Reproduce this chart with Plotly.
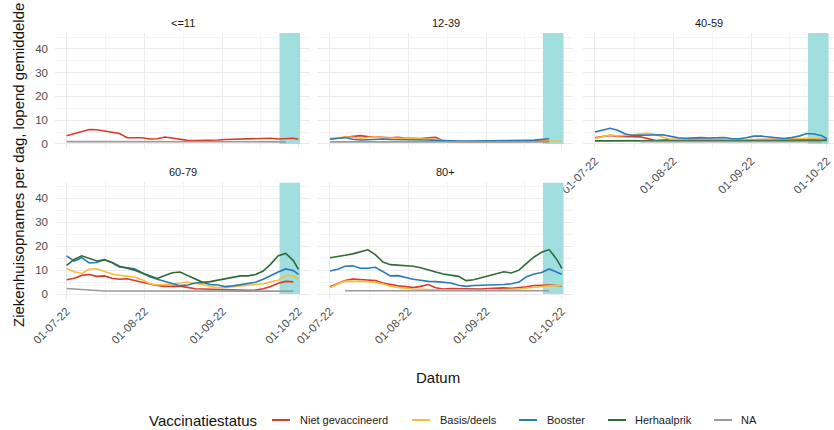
import plotly.graph_objects as go

# ---------------- data ----------------
DATES = ["2022-07-01", "2022-07-04", "2022-07-07", "2022-07-10", "2022-07-13", "2022-07-16",
         "2022-07-19", "2022-07-22", "2022-07-25", "2022-07-28", "2022-07-31", "2022-08-03",
         "2022-08-06", "2022-08-09", "2022-08-12", "2022-08-15", "2022-08-18", "2022-08-21",
         "2022-08-24", "2022-08-27", "2022-08-30", "2022-09-02", "2022-09-05", "2022-09-08",
         "2022-09-11", "2022-09-14", "2022-09-17", "2022-09-20", "2022-09-23", "2022-09-26",
         "2022-09-29", "2022-10-01"]

STATUSES = ["Niet gevaccineerd", "Basis/deels", "Booster", "Herhaalprik", "NA"]
AGE_GROUPS = ["<=11", "12-39", "40-59", "60-79", "80+"]

N = None
# <=11
le11_niet = [3.5, 4.4, 5.3, 6.1, 6.0, 5.5, 5.1, 4.4, 2.6, 2.7, 2.6, 2.1, 2.2, 2.9, 2.4, 1.8,
             1.5, 1.4, 1.4, 1.5, 1.7, 1.9, 2.0, 2.1, 2.1, 2.0, 2.1, 2.4, 2.1, 2.3, 2.4, 2.0]
le11_na = [1.0, 1.0, 0.9, 0.9, 0.9, 0.9, 0.9, 0.9, 0.9, 0.9, 0.9, 0.9, 0.9, 0.9, 0.9, 0.9,
           0.9, 0.9, 0.9, 0.9, 0.9, 0.9, 0.9, 0.9, 0.9, 0.9, 0.9, 0.9, 0.9, 0.9, N, N]
# 12-39
a1239_niet = [2.1, 2.5, 3.0, 3.4, 3.5, 3.1, 2.9, 2.7, 2.6, 2.8, 2.4, 2.4, 2.3, 2.6, 2.8, 1.2,
              1.0, 1.0, 0.9, 0.9, 0.9, 0.9, 0.9, 1.0, 1.0, 1.0, 1.1, 1.3, 1.3, 1.2, N, N]
a1239_basis = [2.3, 2.6, 2.9, 2.8, 2.4, 2.7, 3.0, 2.6, 2.5, 2.6, 2.5, 2.5, 2.4, 2.2, 2.0, 1.2,
               1.0, 1.0, 1.0, 1.0, 1.0, 1.0, 1.0, 1.0, 1.0, 1.0, 1.0, 1.0, 1.0, 1.1, 1.2, 1.2]
a1239_booster = [2.0, 2.4, 2.7, 2.0, 1.7, 1.8, 2.0, 2.1, 1.9, 1.9, 1.8, 1.7, 1.7, 1.7, 1.5, 1.3,
                 1.3, 1.2, 1.2, 1.2, 1.3, 1.3, 1.3, 1.3, 1.3, 1.4, 1.5, 1.6, 1.8, 2.2, N, N]
a1239_na = [0.9, 0.9, 0.9, 0.9, 0.9, 0.9, 0.9, 0.9, 0.9, 0.9, 0.9, 0.9, 0.9, 0.9, 0.9, 0.9,
            0.9, 0.9, 0.9, 0.9, 0.9, 0.9, 0.9, 0.9, 0.9, 0.9, 0.9, 0.9, 0.9, 0.9, N, N]
# 40-59
a4059_niet = [2.6, 3.2, 3.6, 3.2, 3.0, 3.1, 3.0, 2.3, 1.4, 1.6, 1.8, 2.1, 2.1, 2.1, 2.0, 2.0,
              1.9, 1.8, 1.8, 1.8, 1.8, 1.8, 1.8, 1.8, 1.8, 1.8, 1.9, 2.1, 2.2, 2.1, 2.1, 1.8]
a4059_basis = [2.3, 3.2, 3.8, 3.4, 3.5, 3.9, 4.3, 4.5, 4.0, 2.8, 2.0, 1.7, 1.7, 1.7, 1.7, 1.7,
               1.7, 1.7, 1.7, 1.7, 1.7, 1.7, 1.7, 1.7, 1.8, 1.9, 2.1, 2.4, 2.4, 2.3, 2.0, 1.5]
a4059_booster = [5.0, 5.9, 6.6, 5.8, 4.2, 3.6, 3.7, 3.9, 4.1, 3.9, 3.2, 2.6, 2.4, 2.6, 2.7, 2.5,
                 2.5, 2.7, 2.3, 2.2, 2.6, 3.3, 3.3, 3.0, 2.4, 2.3, 2.7, 3.3, 4.4, 4.2, 3.5, 2.2]
a4059_herhaal = [1.3, 1.3, 1.3, 1.3, 1.3, 1.3, 1.3, 1.3, 1.3, 1.3, 1.3, 1.3, 1.3, 1.3, 1.3, 1.3,
                 1.3, 1.3, 1.3, 1.3, 1.3, 1.3, 1.3, 1.3, 1.3, 1.3, 1.3, 1.3, 1.2, 1.2, 1.3, 1.5]
a4059_na = [N, N, N, N, N, N, 1.0, 1.0, 1.0, 1.0, 1.0, 1.0, 1.0, 1.0, 1.0, 1.0,
            1.0, 1.0, 1.0, 1.0, 1.0, 1.0, 1.0, 1.0, 1.0, 1.0, 1.0, 1.0, 1.0, 1.0, 1.0, N]
# 60-79
a6079_niet = [6.0, 6.6, 7.8, 8.2, 7.4, 7.6, 6.6, 6.2, 6.4, 5.6, 4.9, 4.2, 3.6, 3.2, 3.2, 3.3,
              2.8, 2.2, 2.1, 2.0, 1.8, 1.7, 1.7, 1.6, 1.6, 1.7, 2.2, 3.2, 4.5, 5.3, 5.1, N]
a6079_basis = [10.7, 9.3, 8.6, 10.5, 10.6, 9.4, 8.4, 7.8, 7.5, 7.1, 6.0, 4.3, 3.8, 3.9, 4.2, 4.6,
               4.9, 4.4, 4.0, 3.2, 2.7, 2.8, 3.1, 3.1, 3.6, 4.0, 4.3, 5.1, 5.8, 7.8, 7.6, 6.0]
a6079_booster = [16.0, 13.8, 15.2, 13.0, 13.2, 14.4, 13.2, 11.3, 11.0, 10.6, 8.8, 7.2, 6.2, 5.3, 4.6, 3.5,
                 3.8, 4.6, 4.8, 4.0, 3.8, 3.1, 3.4, 3.8, 4.2, 4.9, 6.2, 7.8, 9.2, 10.5, 9.8, 8.2]
a6079_herhaal = [12.0, 14.5, 16.0, 14.8, 13.8, 14.3, 13.2, 11.6, 10.8, 10.0, 8.8, 7.6, 6.5, 7.8, 8.9, 9.2,
                 7.8, 6.2, 4.9, 5.2, 5.8, 6.4, 7.2, 7.6, 7.6, 8.2, 9.6, 12.5, 16.0, 17.0, 14.0, 10.3]
a6079_na = [2.3, 2.1, 1.6, 1.4, 1.3, 1.3, 1.3, 1.3, 1.3, 1.3, 1.2, 1.2, 1.2, 1.2, 1.2, 1.2,
            1.2, 1.2, 1.2, 1.2, 1.2, 1.2, 1.2, 1.2, 1.2, 1.2, 1.2, 1.2, 1.2, 1.2, 1.2, N]
# 80+
a80_niet = [3.1, 4.4, 5.7, 6.3, 6.0, 6.0, 5.6, 4.6, 3.9, 3.4, 3.1, 2.7, 3.2, 4.0, 2.6, 2.1,
            2.3, 2.2, 2.1, 2.0, 2.1, 2.3, 2.5, 2.6, 2.4, 2.6, 3.0, 3.6, 3.8, 3.8, 3.6, 3.3]
a80_basis = [2.6, 4.2, 5.4, 5.5, 5.3, 5.2, 4.9, 4.2, 3.3, 2.8, 2.3, 2.1, 2.0, 2.0, 1.8, 1.7,
             1.6, 1.5, 1.5, 1.5, 1.5, 1.6, 1.7, 1.8, 2.0, 2.1, 2.5, 2.9, 3.2, 3.4, 3.5, 3.5]
a80_booster = [9.6, 10.4, 11.6, 11.8, 10.8, 10.8, 11.2, 9.4, 7.6, 7.7, 6.8, 6.2, 5.8, 5.3, 5.2, 4.9,
               4.6, 3.7, 3.2, 3.6, 3.8, 3.8, 3.9, 4.0, 4.3, 5.0, 7.2, 8.4, 9.0, 10.5, 9.2, 8.3]
a80_herhaal = [15.2, 15.6, 16.2, 16.8, 17.6, 18.5, 16.5, 13.4, 12.3, 12.1, 11.9, 11.6, 11.0, 10.0, 9.2, 8.4,
               8.0, 7.4, 5.6, 6.0, 6.8, 7.6, 8.6, 9.3, 8.8, 10.0, 12.8, 15.5, 17.5, 18.6, 14.5, 10.7]
a80_na = [N, N, 1.4, 1.4, 1.4, 1.4, 1.4, 1.4, 1.4, 1.4, 1.4, 1.4, 1.4, 1.4, 1.4, 1.4,
          1.4, 1.4, 1.4, 1.4, 1.4, 1.4, 1.4, 1.4, 1.4, 1.4, 1.4, 1.4, 1.4, 1.4, N, N]

PANEL_SERIES = {
    "<=11": {"Niet gevaccineerd": le11_niet, "NA": le11_na},
    "12-39": {"Niet gevaccineerd": a1239_niet, "Basis/deels": a1239_basis,
              "Booster": a1239_booster, "NA": a1239_na},
    "40-59": {"Niet gevaccineerd": a4059_niet, "Basis/deels": a4059_basis,
              "Booster": a4059_booster, "Herhaalprik": a4059_herhaal, "NA": a4059_na},
    "60-79": {"Niet gevaccineerd": a6079_niet, "Basis/deels": a6079_basis,
              "Booster": a6079_booster, "Herhaalprik": a6079_herhaal, "NA": a6079_na},
    "80+": {"Niet gevaccineerd": a80_niet, "Basis/deels": a80_basis,
            "Booster": a80_booster, "Herhaalprik": a80_herhaal, "NA": a80_na},
}

HIGHLIGHT_START = "2022-09-23 12:00"
HIGHLIGHT_END = "2022-10-01 16:00"

X_TICKS = ["2022-07-01", "2022-08-01", "2022-09-01", "2022-10-01"]
X_TICK_LABELS = ["01-07-22", "01-08-22", "01-09-22", "01-10-22"]
X_MINOR = ["2022-07-16 12:00", "2022-08-16 12:00", "2022-09-16"]
Y_TICKS = [0, 10, 20, 30, 40]
Y_MINOR = [5, 15, 25, 35, 45]

# ---------------- style ----------------
COLORS = {"Niet gevaccineerd": "#D83A2C", "Basis/deels": "#F8BD3A", "Booster": "#2A7AB5",
          "Herhaalprik": "#2F6B3A", "NA": "#9A9A9A"}
HL_COLOR = "#A0DEDF"
FONT = "Liberation Sans"
W, H = 834, 430

X_RANGE = ["2022-06-26 09:36", "2022-10-05 14:24"]
X_RANGE_C3 = ["2022-06-26 09:36", "2022-10-03 20:00"]
Y_RANGE = [-2.2, 46.7]

# pixel boxes (x0, x1) and (ytop, ybottom)
cols = [(55, 310), (318.4, 573.4), (583.4, 834)]
rows = [(33, 149.2), (182.4, 299.3)]
PANEL_POS = {"<=11": (0, 0), "12-39": (0, 1), "40-59": (0, 2), "60-79": (1, 0), "80+": (1, 1)}

fig = go.Figure()
layout = dict(
    width=W, height=H, margin=dict(l=0, r=0, t=0, b=0, autoexpand=False),
    paper_bgcolor="white", plot_bgcolor="white",
    font=dict(family=FONT, color="#1A1A1A"), showlegend=False,
)
annotations = []
shapes = []

for i, grp in enumerate(AGE_GROUPS):
    r, c = PANEL_POS[grp]
    x0, x1 = cols[c]
    yt, yb = rows[r]
    n = i + 1
    xa = "xaxis" if n == 1 else f"xaxis{n}"
    ya = "yaxis" if n == 1 else f"yaxis{n}"
    xr = "x" if n == 1 else f"x{n}"
    yr = "y" if n == 1 else f"y{n}"
    show_x = (r == 1) or (grp == "40-59")
    layout[xa] = dict(
        domain=[x0 / W, x1 / W], anchor=yr, type="date", automargin=False,
        range=X_RANGE_C3 if c == 2 else X_RANGE,
        tickmode="array", tickvals=X_TICKS, ticktext=X_TICK_LABELS,
        tickangle=-45, showticklabels=show_x, ticklabelstandoff=2,
        tickfont=dict(size=11.5, color="#4D4D4D", family=FONT),
        showgrid=True, gridcolor="#EBEBEB", gridwidth=1.1,
        minor=dict(tickmode="array", tickvals=X_MINOR, showgrid=True,
                   gridcolor="#F4F4F4", gridwidth=0.7),
        zeroline=False, showline=False, ticks="",
    )
    layout[ya] = dict(
        domain=[1 - yb / H, 1 - yt / H], anchor=xr, range=Y_RANGE, automargin=False,
        tickmode="array", tickvals=Y_TICKS, showticklabels=(c == 0),
        ticklabelstandoff=6,
        tickfont=dict(size=11.5, color="#4D4D4D", family=FONT),
        showgrid=True, gridcolor="#EBEBEB", gridwidth=1.1,
        minor=dict(tickmode="array", tickvals=Y_MINOR, showgrid=True,
                   gridcolor="#F4F4F4", gridwidth=0.7),
        zeroline=False, showline=False, ticks="",
    )
    shapes.append(dict(type="rect", xref=xr, yref=yr, x0=HIGHLIGHT_START, x1=HIGHLIGHT_END,
                       y0=0, y1=Y_RANGE[1], fillcolor=HL_COLOR, line=dict(width=0),
                       layer="between"))
    for st in STATUSES:
        vals = PANEL_SERIES[grp].get(st)
        if vals is None:
            continue
        fig.add_trace(go.Scatter(x=DATES, y=vals, mode="lines", xaxis=xr, yaxis=yr,
                                 line=dict(color=COLORS[st], width=1.6),
                                 name=st, hoverinfo="skip", connectgaps=False))
    annotations.append(dict(text=grp, x=(x0 + x1) / 2 / W, y=1 - (yt - 10) / H,
                            xref="paper", yref="paper", showarrow=False,
                            xanchor="center", yanchor="middle",
                            font=dict(size=11, color="#1A1A1A", family=FONT)))

# axis titles
annotations.append(dict(text="Datum", x=438 / W, y=1 - 377 / H, xref="paper", yref="paper",
                        showarrow=False, xanchor="center", yanchor="middle",
                        font=dict(size=15, color="#111111", family=FONT)))
annotations.append(dict(text="Ziekenhuisopnames per dag, lopend gemiddelde", x=18 / W,
                        y=1 - 165 / H, xref="paper", yref="paper", showarrow=False,
                        textangle=-90, xanchor="center", yanchor="middle",
                        font=dict(size=15, color="#111111", family=FONT)))

# legend (manual)
LEG_Y = 1 - 420 / H
annotations.append(dict(text="Vaccinatiestatus", x=147 / W, y=LEG_Y, xref="paper", yref="paper",
                        showarrow=False, xanchor="left", yanchor="middle",
                        font=dict(size=15, color="#111111", family=FONT)))
LEG_ITEMS = [("Niet gevaccineerd", 272, 298), ("Basis/deels", 412, 438), ("Booster", 519, 545),
             ("Herhaalprik", 608, 633), ("NA", 714, 739)]
for st, lx, tx in LEG_ITEMS:
    shapes.append(dict(type="line", xref="paper", yref="paper", x0=lx / W, x1=(lx + 18) / W,
                       y0=LEG_Y, y1=LEG_Y, line=dict(color=COLORS[st], width=2)))
    annotations.append(dict(text=st, x=tx / W, y=LEG_Y, xref="paper", yref="paper",
                            showarrow=False, xanchor="left", yanchor="middle",
                            font=dict(size=11, color="#1A1A1A", family=FONT)))

layout["annotations"] = annotations
layout["shapes"] = shapes
fig.update_layout(**layout)
fig.write_html(
    "out.html",
    config={"displayModeBar": False},
    post_script="document.documentElement.style.margin='0';document.body.style.margin='0';"
                "document.body.style.overflow='hidden';",
)
